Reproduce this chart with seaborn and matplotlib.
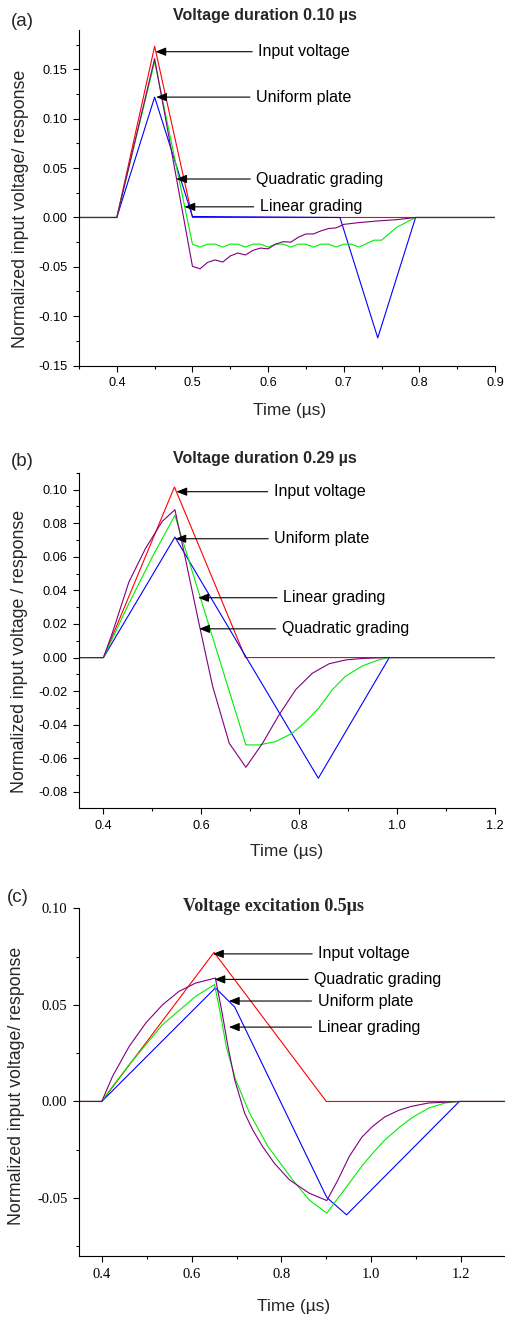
import matplotlib
matplotlib.use("Agg")
import matplotlib.pyplot as plt
import seaborn as sns
import pandas as pd
from matplotlib.ticker import MultipleLocator, FormatStrFormatter

# ---------------- data ----------------
# Panel (a): voltage duration 0.10 us
a_t_input = [0.35, 0.40, 0.45, 0.50, 0.90]
a_v_input = [0, 0, 0.1735, 0, 0]
a_t_uniform = [0.35, 0.40, 0.45, 0.50, 0.695, 0.745, 0.795, 0.90]
a_v_uniform = [0, 0, 0.122, 0.001, 0.0, -0.122, 0, 0]
a_t_linear = [0.35, 0.40, 0.45, 0.50, 0.51, 0.52, 0.53, 0.54, 0.55, 0.56, 0.57, 0.58, 0.59,
              0.60, 0.61, 0.62, 0.63, 0.64, 0.65, 0.66, 0.67, 0.68, 0.69, 0.70, 0.71, 0.72,
              0.74, 0.75, 0.77, 0.795, 0.90]
a_v_linear = [0, 0, 0.158, -0.027, -0.030, -0.027, -0.027, -0.030, -0.027, -0.027, -0.030,
              -0.027, -0.027, -0.030, -0.027, -0.027, -0.030, -0.027, -0.027, -0.030, -0.027,
              -0.027, -0.030, -0.027, -0.027, -0.030, -0.023, -0.023, -0.010, 0, 0]
a_t_quad = [0.35, 0.40, 0.45, 0.50, 0.51, 0.52, 0.53, 0.54, 0.55, 0.56, 0.57, 0.58, 0.59, 0.60,
            0.61, 0.62, 0.63, 0.64, 0.65, 0.66, 0.67, 0.68, 0.69, 0.70, 0.72, 0.745, 0.77, 0.795, 0.90]
a_v_quad = [0, 0, 0.161, -0.0495, -0.052, -0.0455, -0.043, -0.0452, -0.039, -0.036, -0.038,
            -0.0333, -0.031, -0.0318, -0.027, -0.0245, -0.025, -0.020, -0.0167, -0.0167, -0.0135,
            -0.0112, -0.0105, -0.007, -0.0052, -0.0035, -0.0022, 0, 0]

# Panel (b): voltage duration 0.29 us
b_t_input = [0.35, 0.40, 0.545, 0.69, 1.2]
b_v_input = [0, 0, 0.1015, 0, 0]
b_t_uniform = [0.35, 0.40, 0.546, 0.692, 0.839, 0.984, 1.2]
b_v_uniform = [0, 0, 0.0717, 0, -0.0718, 0, 0]
b_t_linear = [0.35, 0.40, 0.45, 0.50, 0.546, 0.691, 0.718, 0.752, 0.786, 0.814, 0.84, 0.868,
              0.895, 0.929, 0.963, 0.984, 1.2]
b_v_linear = [0, 0, 0.031, 0.060, 0.0846, -0.052, -0.052, -0.050, -0.045, -0.038, -0.030,
              -0.019, -0.011, -0.005, -0.0013, 0, 0]
b_t_quad = [0.35, 0.40, 0.418, 0.452, 0.486, 0.520, 0.546, 0.568, 0.595, 0.623, 0.657, 0.691,
            0.725, 0.759, 0.793, 0.827, 0.861, 0.895, 0.93, 0.98, 1.2]
b_v_quad = [0, 0, 0.0145, 0.045, 0.065, 0.081, 0.088, 0.058, 0.0205, -0.017, -0.051, -0.0653,
            -0.051, -0.034, -0.019, -0.0093, -0.0037, -0.0014, -0.0005, 0, 0]

# Panel (c): voltage excitation 0.5 us
c_t_input = [0.35, 0.40, 0.65, 0.90, 1.3]
c_v_input = [0, 0, 0.0772, 0, 0]
c_t_uniform = [0.35, 0.40, 0.653, 0.696, 0.901, 0.945, 1.196, 1.3]
c_v_uniform = [0, 0, 0.0588, 0.0489, -0.0497, -0.0587, 0, 0]
c_t_linear = [0.35, 0.40, 0.424, 0.461, 0.535, 0.609, 0.651, 0.664, 0.677, 0.698, 0.729, 0.770,
              0.825, 0.862, 0.901, 0.951, 0.979, 1.0025, 1.03, 1.062, 1.09, 1.127, 1.164,
              1.194, 1.3]
c_v_linear = [0, 0, 0.0078, 0.019, 0.0397, 0.0544, 0.0605, 0.0458, 0.0285, 0.0112, -0.006,
              -0.0233, -0.0406, -0.051, -0.0578, -0.0423, -0.0335, -0.027, -0.020, -0.0135,
              -0.0085, -0.0035, -0.0008, 0, 0]
c_t_quad = [0.35, 0.40, 0.424, 0.461, 0.498, 0.535, 0.572, 0.609, 0.653, 0.668, 0.681, 0.696,
            0.718, 0.736, 0.758, 0.784, 0.818, 0.862, 0.901, 0.925, 0.951, 0.979, 1.0025, 1.03,
            1.062, 1.09, 1.127, 1.2, 1.3]
c_v_quad = [0, 0, 0.013, 0.0285, 0.0406, 0.050, 0.057, 0.0613, 0.0639, 0.0458, 0.0285, 0.0112,
            -0.006, -0.0147, -0.0233, -0.0319, -0.0406, -0.0475, -0.0513, -0.041, -0.0285,
            -0.0185, -0.013, -0.008, -0.0045, -0.0025, -0.0008, 0, 0]

series_names = ["Input voltage", "Uniform plate", "Linear grading", "Quadratic grading"]
series_colors = {"Input voltage": "#ff0000", "Uniform plate": "#0000ff",
                 "Linear grading": "#00ee00", "Quadratic grading": "#800080"}

titles = ["Voltage duration 0.10 \u00b5s", "Voltage duration 0.29 \u00b5s",
          "Voltage excitation 0.5\u00b5s"]
panel_tags = ["(a)", "(b)", "(c)"]
ylabels = ["Normalized input voltage/ response", "Normalized input voltage / response",
           "Normalized input voltage/ response"]
xlabel_text = "Time (\u00b5s)"

# ---------------- style ----------------
sns.set_style("ticks")
plt.rcParams["font.family"] = ["Liberation Sans", "DejaVu Sans"]
plt.rcParams["axes.unicode_minus"] = False
plt.rcParams["axes.linewidth"] = 0.8

W, H = 506, 1318
fig = plt.figure(figsize=(W / 100, H / 100), dpi=100)


def px_axes(left, top, right, bottom):
    return fig.add_axes([left / W, 1 - bottom / H, (right - left) / W, (bottom - top) / H])


def ftext(x, y, s, **kw):
    fig.text(x / W, 1 - y / H, s, **kw)


def draw(ax, data):
    for name, (t, v) in data.items():
        df = pd.DataFrame({"t": t, "v": v})
        sns.lineplot(data=df, x="t", y="v", ax=ax, color=series_colors[name], lw=0.8,
                     sort=False, estimator=None)
    ax.set_xlabel("")
    ax.set_ylabel("")


def style(ax, xlim, ylim, xmaj, xmin, ymaj, ymin, xfmt, yfmt, font, size):
    ax.set_xlim(*xlim)
    ax.set_ylim(*ylim)
    ax.xaxis.set_major_locator(MultipleLocator(xmaj))
    ax.xaxis.set_minor_locator(MultipleLocator(xmin))
    ax.yaxis.set_major_locator(MultipleLocator(ymaj))
    ax.yaxis.set_minor_locator(MultipleLocator(ymin))
    ax.xaxis.set_major_formatter(FormatStrFormatter(xfmt))
    ax.yaxis.set_major_formatter(FormatStrFormatter(yfmt))
    ax.tick_params(which="major", direction="out", length=4.5, width=0.8, pad=4,
                   colors="black", labelsize=size)
    ax.tick_params(which="minor", direction="out", length=2.5, width=0.8, colors="black")
    for lab in ax.get_xticklabels() + ax.get_yticklabels():
        lab.set_fontfamily(font)
    sns.despine(ax=ax)
    for sp in ("left", "bottom"):
        ax.spines[sp].set_color("black")


def annot(ax, text, tip, txt_x, txt_y=None):
    if txt_y is None:
        txt_y = tip[1]
    ax.annotate(text, xy=tip, xytext=(txt_x, txt_y), ha="left", va="center",
                fontsize=11.5, color="black",
                arrowprops=dict(arrowstyle="-|>,head_length=0.55,head_width=0.22",
                                color="black", lw=0.8, shrinkA=2, shrinkB=0))


# ---------------- panel (a) ----------------
axa = px_axes(79, 30, 495, 365.5)
draw(axa, {"Input voltage": (a_t_input, a_v_input),
           "Uniform plate": (a_t_uniform, a_v_uniform),
           "Linear grading": (a_t_linear, a_v_linear),
           "Quadratic grading": (a_t_quad, a_v_quad)})
style(axa, (0.35, 0.9), (-0.15, 0.19), 0.1, 0.05, 0.05, 0.025, "%.1f", "%.2f",
      ["Liberation Sans"], 9.2)
axa.set_yticks([-0.15, -0.10, -0.05, 0.0, 0.05, 0.10, 0.15])
annot(axa, "Input voltage", (0.451, 0.168), 0.587)
annot(axa, "Uniform plate", (0.452, 0.122), 0.584)
annot(axa, "Quadratic grading", (0.4785, 0.039), 0.5845)
annot(axa, "Linear grading", (0.4894, 0.0108), 0.589)

# ---------------- panel (b) ----------------
axb = px_axes(79, 472.7, 495, 808.3)
draw(axb, {"Input voltage": (b_t_input, b_v_input),
           "Uniform plate": (b_t_uniform, b_v_uniform),
           "Linear grading": (b_t_linear, b_v_linear),
           "Quadratic grading": (b_t_quad, b_v_quad)})
style(axb, (0.35, 1.2), (-0.0897, 0.110), 0.2, 0.1, 0.02, 0.01, "%.1f", "%.2f",
      ["Liberation Sans"], 9.2)
axb.set_xticks([0.4, 0.6, 0.8, 1.0, 1.2])
annot(axb, "Input voltage", (0.549, 0.0987), 0.748)
annot(axb, "Uniform plate", (0.547, 0.0707), 0.749)
annot(axb, "Linear grading", (0.5935, 0.0356), 0.767)
annot(axb, "Quadratic grading", (0.5955, 0.0171), 0.764)

# ---------------- panel (c) ----------------
axc = px_axes(79.3, 908.3, 506, 1256)
draw(axc, {"Input voltage": (c_t_input, c_v_input),
           "Uniform plate": (c_t_uniform, c_v_uniform),
           "Linear grading": (c_t_linear, c_v_linear),
           "Quadratic grading": (c_t_quad, c_v_quad)})
style(axc, (0.35, 1.3), (-0.08, 0.10), 0.2, 0.1, 0.05, 0.025, "%.1f", "%.2f",
      ["Liberation Serif"], 10.5)
axc.set_xticks([0.4, 0.6, 0.8, 1.0, 1.2])
annot(axc, "Input voltage", (0.6476, 0.0764), 0.882)
annot(axc, "Quadratic grading", (0.651, 0.0632), 0.873)
annot(axc, "Uniform plate", (0.683, 0.052), 0.8805)
annot(axc, "Linear grading", (0.683, 0.0385), 0.8805)

# ---------------- titles & labels ----------------
ftext(264.7, 15.7, titles[0], ha="center", va="center", fontsize=11.5, fontweight="bold")
ftext(264.7, 459, titles[1], ha="center", va="center", fontsize=11.5, fontweight="bold")
ftext(273.3, 906.7, titles[2], ha="center", va="center", fontsize=13, fontweight="bold",
      family=["Liberation Serif", "DejaVu Serif"])

ftext(11, 22, panel_tags[0], ha="left", va="center", fontsize=13.5)
ftext(11, 461.7, panel_tags[1], ha="left", va="center", fontsize=13.5)
ftext(7, 898, panel_tags[2], ha="left", va="center", fontsize=13.5)

ftext(21, 209, ylabels[0], ha="center", va="center", rotation=90, fontsize=12.8)
ftext(20, 651.7, ylabels[1], ha="center", va="center", rotation=90, fontsize=12.8)
ftext(16.7, 1085.8, ylabels[2], ha="center", va="center", rotation=90, fontsize=12.8)

ftext(290, 410, xlabel_text, ha="center", va="center", fontsize=12.5)
ftext(286.7, 851.7, xlabel_text, ha="center", va="center", fontsize=12.5)
ftext(294, 1306.7, xlabel_text, ha="center", va="center", fontsize=12.5)

fig.savefig("out.png", dpi=100)
